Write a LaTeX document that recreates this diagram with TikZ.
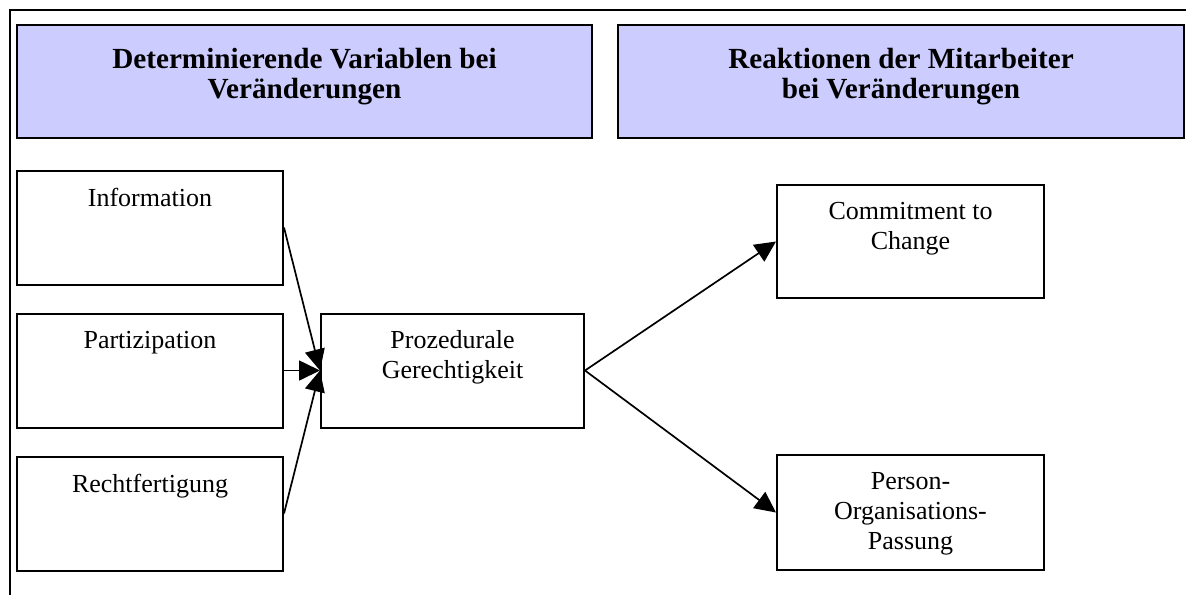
\documentclass[tikz,border=0pt]{standalone}
\usepackage{fontspec}
\setmainfont{Liberation Serif}
\usetikzlibrary{arrows.meta}
\usepackage{xcolor}
\definecolor{headblue}{HTML}{CCCCFF}

\begin{document}
\begin{tikzpicture}[x=0.5pt,y=-0.5pt,
			  box/.style={draw=black,line width=1pt,fill=white,minimum width=266*0.5pt,minimum height=114*0.5pt,inner sep=0pt},
			  head/.style={box,fill=headblue,minimum height=113*0.5pt},
			  boxtext/.style={anchor=north,inner sep=0pt,yshift=-9pt,align=center,font=\fontsize{13pt}{15pt}\selectfont},
			  headtext/.style={anchor=north,inner sep=0pt,yshift=-12pt,align=center,font=\fontsize{14.6pt}{15pt}\selectfont\bfseries},
			  pfeil/.style={line width=0.85pt,-{Triangle[length=10.5pt,width=10pt]}}]
			  \useasboundingbox (0,0) rectangle (1186,595);
			  % Rahmen
			  \draw[line width=1pt] (10,595) -- (10,10) -- (1186,10);
			  % Kopfzeilen
			  \node[head,minimum width=575*0.5pt,label={[headtext]north:{Determinierende Variablen bei\\Ver\"anderungen}}] (kopfa) at (304.5,81.5) {};
			  \node[head,minimum width=566*0.5pt,label={[headtext]north:{Reaktionen der Mitarbeiter\\bei Ver\"anderungen}}] (kopfb) at (901,81.5) {};
			  % Variablen
			  \node[box,label={[boxtext]north:Information}] (info) at (150,227.5) {};
			  \node[box,label={[boxtext]north:Partizipation}] (parti) at (150,370.5) {};
			  \node[box,label={[boxtext]north:Rechtfertigung}] (recht) at (150,513.5) {};
			  \node[box,minimum width=263*0.5pt,label={[boxtext]north:{Prozedurale\\Gerechtigkeit}}] (proz) at (452.5,370.5) {};
			  % Reaktionen
			  \node[box,minimum width=267*0.5pt,minimum height=113*0.5pt,label={[boxtext]north:{Commitment to\\Change}}] (commit) at (910.5,241.5) {};
			  \node[box,minimum width=267*0.5pt,minimum height=115*0.5pt,label={[boxtext]north:{Person-\\Organisations-\\Passung}}] (passung) at (910.5,512.5) {};
			  % Pfeile
			  \draw[pfeil] (info.east) -- (proz.west);
			  \draw[pfeil] (parti.east) -- (proz.west);
			  \draw[pfeil] (recht.east) -- (proz.west);
			  \draw[pfeil] (proz.east) -- (commit.west);
			  \draw[pfeil] (proz.east) -- (passung.west);
			\end{tikzpicture}
\end{document}
